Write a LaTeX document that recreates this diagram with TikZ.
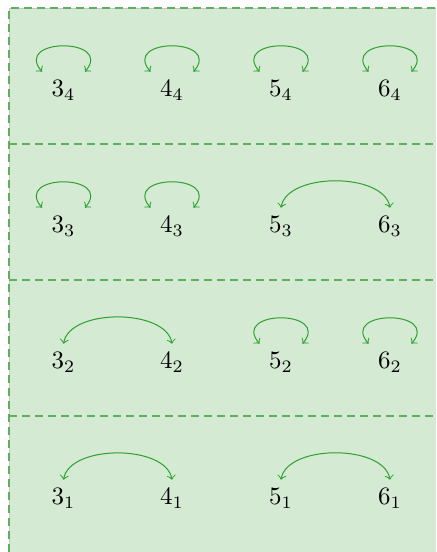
\documentclass[tikz,border=0pt]{standalone}
\usepackage{amsmath}
\usepackage{xcolor}
\usepackage{tikz}
\definecolor{panelgreen}{RGB}{212,234,211}
\definecolor{dashgreen}{RGB}{95,175,95}
\definecolor{arcgreen}{RGB}{45,160,45}
\begin{document}
\begin{tikzpicture}[x=0.4pt, y=0.4pt,
  lab/.style={inner sep=0.333em, text=black},
  sep/.style={draw=dashgreen, dash pattern=on 3.2pt off 2pt, line width=0.6pt},
  swap/.style={<->, draw=arcgreen, line width=0.4pt},
  selfswap/.style={swap, out=130, in=50, looseness=2.67},
  pairswap/.style={swap, out=80, in=100, looseness=0.85}
]
  \useasboundingbox (0,0) rectangle (436,552);

  % panel and level separators
  \fill[panelgreen] (9,0) rectangle (436,544);
  \draw[gray!45, line width=0.3pt] (9,0) -- (9,544) -- (436,544);
  \draw[sep] (9,0) -- (9,544) -- (436,544);
  \draw[sep] (9,408) -- (436,408);
  \draw[sep] (9,272) -- (436,272);
  \draw[sep] (9,136) -- (436,136);

  % level 4
  \node[lab] (a4) at (63.5,461.5) {$3_4$};
  \node[lab] (b4) at (172,461.5)  {$4_4$};
  \node[lab] (c4) at (281,461.5)  {$5_4$};
  \node[lab] (d4) at (390,461.5)  {$6_4$};

  % level 3
  \node[lab] (a3) at (63.5,325.5) {$3_3$};
  \node[lab] (b3) at (172,325.5)  {$4_3$};
  \node[lab] (c3) at (281,325.5)  {$5_3$};
  \node[lab] (d3) at (390,325.5)  {$6_3$};

  % level 2
  \node[lab] (a2) at (63.5,189.5) {$3_2$};
  \node[lab] (b2) at (172,189.5)  {$4_2$};
  \node[lab] (c2) at (281,189.5)  {$5_2$};
  \node[lab] (d2) at (390,189.5)  {$6_2$};

  % level 1
  \node[lab] (a1) at (63.5,53.5)  {$3_1$};
  \node[lab] (b1) at (172,53.5)   {$4_1$};
  \node[lab] (c1) at (281,53.5)   {$5_1$};
  \node[lab] (d1) at (390,53.5)   {$6_1$};

  % swaps
  \draw[selfswap] ([xshift=-8.6pt]a4.north) to ([xshift=8.6pt]a4.north);
  \draw[selfswap] ([xshift=-8.6pt]b4.north) to ([xshift=8.6pt]b4.north);
  \draw[selfswap] ([xshift=-8.6pt]c4.north) to ([xshift=8.6pt]c4.north);
  \draw[selfswap] ([xshift=-8.6pt]d4.north) to ([xshift=8.6pt]d4.north);

  \draw[selfswap] ([xshift=-8.6pt]a3.north) to ([xshift=8.6pt]a3.north);
  \draw[selfswap] ([xshift=-8.6pt]b3.north) to ([xshift=8.6pt]b3.north);
  \draw[pairswap] (c3.north) to (d3.north);

  \draw[pairswap] (a2.north) to (b2.north);
  \draw[selfswap] ([xshift=-8.6pt]c2.north) to ([xshift=8.6pt]c2.north);
  \draw[selfswap] ([xshift=-8.6pt]d2.north) to ([xshift=8.6pt]d2.north);

  \draw[pairswap] (a1.north) to (b1.north);
  \draw[pairswap] (c1.north) to (d1.north);
\end{tikzpicture}
\end{document}
